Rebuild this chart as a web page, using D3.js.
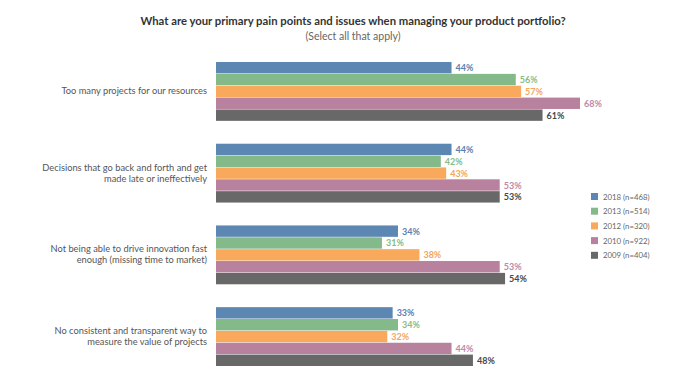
<!DOCTYPE html>
<html>
<head>
<meta charset="utf-8">
<script src="https://cdn.jsdelivr.net/npm/d3@7"></script>
<style>
  body { margin: 0; background: #fff; }
  svg { font-family: Lato, "Open Sans", sans-serif; }
</style>
</head>
<body>
<div class="chart"></div>
<script>
const categories = [
  ["Too many projects for our resources"],
  ["Decisions that go back and forth and get", "made late or ineffectively"],
  ["Not being able to drive innovation fast", "enough (missing time to market)"],
  ["No consistent and transparent way to", "measure the value of projects"],
];
const series = ["2018 (n=468)", "2013 (n=514)", "2012 (n=320)", "2010 (n=922)", "2009 (n=404)"];
const v2018 = [44, 44, 34, 33];
const v2013 = [56, 42, 31, 34];
const v2012 = [57, 43, 38, 32];
const v2010 = [68, 53, 53, 44];
const v2009 = [61, 53, 54, 48];

const values = [v2018, v2013, v2012, v2010, v2009];
const barColors = ["#5d87b3", "#84b98a", "#f9a95b", "#b8829f", "#686868"];
const labelColors = ["#5b80b0", "#86bb88", "#f5a65a", "#c089a8", "#474747"];

const width = 694, height = 387;
const svg = d3.select(".chart").append("svg")
  .attr("width", width).attr("height", height);

// title
svg.append("text")
  .attr("x", 353).attr("y", 25)
  .attr("text-anchor", "middle")
  .attr("font-size", 11.3).attr("font-weight", "bold").attr("fill", "#333")
  .text("What are your primary pain points and issues when managing your product portfolio?");
svg.append("text")
  .attr("x", 353).attr("y", 40)
  .attr("text-anchor", "middle")
  .attr("font-size", 10.5).attr("fill", "#666")
  .text("(Select all that apply)");

const idx = d3.range(categories.length);
const y0 = d3.scaleBand().domain(idx).range([62, 366]).paddingInner(0.28).paddingOuter(0);
const y1 = d3.scaleBand().domain(d3.range(series.length)).range([0, y0.bandwidth()]).paddingInner(0.04);
const x = d3.scaleLinear().domain([0, 68]).range([216, 580]);

const groups = svg.selectAll("g.group").data(idx).enter()
  .append("g").attr("class", "group")
  .attr("transform", (i) => `translate(0,${y0(i)})`);

groups.each(function (ci) {
  const g = d3.select(this);
  const rows = series.map((s, si) => ({ si, v: values[si][ci] }));
  g.selectAll("rect").data(rows).enter().append("rect")
    .attr("x", x(0))
    .attr("y", (d) => y1(d.si))
    .attr("width", (d) => x(d.v) - x(0))
    .attr("height", y1.bandwidth())
    .attr("fill", (d) => barColors[d.si]);
  g.selectAll("text.val").data(rows).enter().append("text")
    .attr("class", "val")
    .attr("x", (d) => x(d.v) + 4)
    .attr("y", (d) => y1(d.si) + y1.bandwidth() / 2 + 3.5)
    .attr("font-size", 9).attr("font-weight", "bold")
    .attr("fill", (d) => labelColors[d.si])
    .text((d) => d.v + "%");

  const lines = categories[ci];
  const lbl = g.append("text")
    .attr("text-anchor", "end")
    .attr("font-size", 9.3).attr("fill", "#555");
  lines.forEach((line, li) => {
    lbl.append("tspan")
      .attr("x", 207)
      .attr("y", y0.bandwidth() / 2 + 3 + (li - (lines.length - 1) / 2) * 11)
      .text(line);
  });
});

// legend
const legend = svg.append("g").attr("transform", "translate(591,193)");
series.forEach((s, i) => {
  const row = legend.append("g").attr("transform", `translate(0,${i * 14.7})`);
  row.append("rect").attr("width", 7).attr("height", 7).attr("fill", barColors[i]);
  row.append("text").attr("x", 12).attr("y", 6.5)
    .attr("font-size", 7.8).attr("fill", "#666").text(s);
});
</script>
</body>
</html>
